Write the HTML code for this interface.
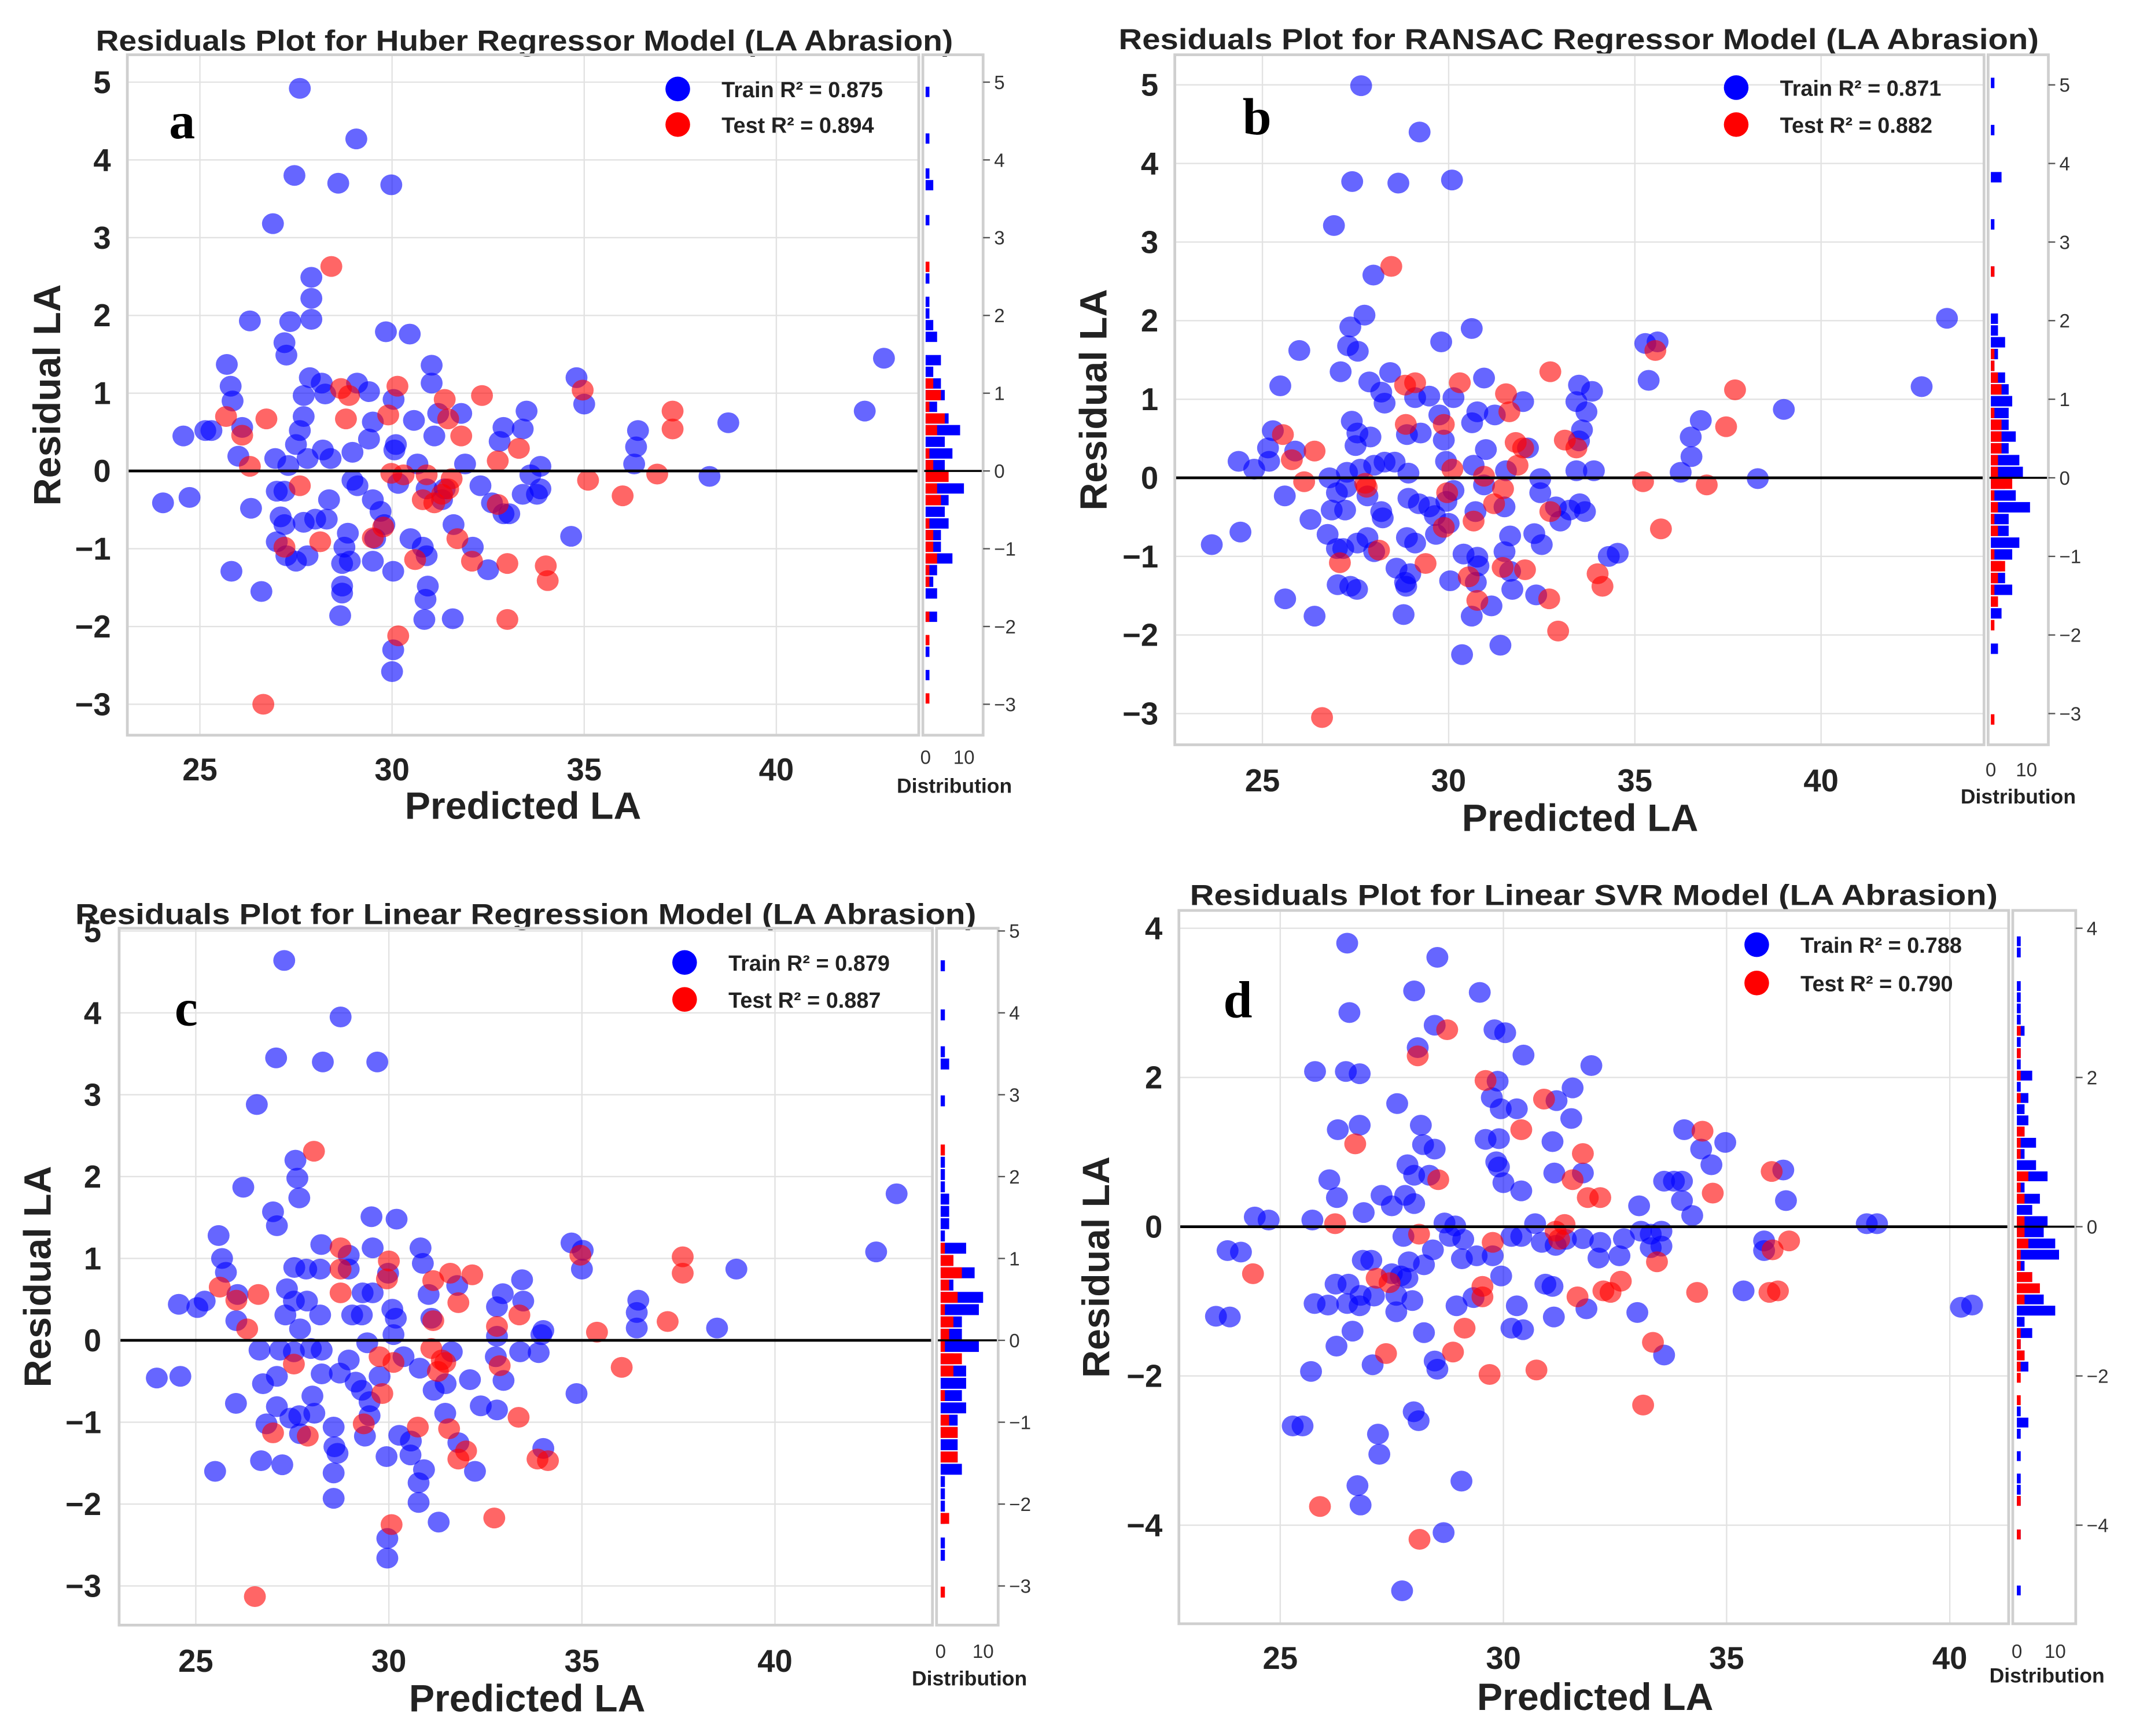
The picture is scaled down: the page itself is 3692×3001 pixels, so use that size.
<!DOCTYPE html>
<html><head><meta charset="utf-8"><style>
html,body{margin:0;padding:0;background:#fff;}
svg{display:block;}
text{font-family:"Liberation Sans",Arial,sans-serif;}
</style></head><body>
<svg id="fig" xmlns="http://www.w3.org/2000/svg" width="3692" height="3001" viewBox="0 0 1560 1268" preserveAspectRatio="none">
<rect x="0" y="0" width="1560" height="1268" fill="#fff"/>
</svg>
<script>
// ---------- DATA ----------
const xTicksAll = [25, 30, 35, 40];
const yTicksABC = [-3, -2, -1, 0, 1, 2, 3, 4, 5];
const yTicksD = [-4, -2, 0, 2, 4];
const histTickLabels = ["0", "10"];

const aTitle = "Residuals Plot for Huber Regressor Model (LA Abrasion)";
const aTrainR2 = "Train R² = 0.875";
const aTestR2 = "Test R² = 0.894";
const aTrain = [[27.6,4.92],[29.07,4.27],[27.46,3.8],[28.6,3.7],[29.98,3.68],[26.9,3.18],[27.9,2.49],[27.9,2.22],[26.3,1.93],[27.35,1.92],[27.9,1.95],[27.2,1.65],[27.25,1.49],[29.84,1.79],[30.46,1.76],[25.7,1.37],[25.8,1.09],[25.85,0.9],[31.03,1.36],[31.03,1.13],[27.86,1.2],[27.7,0.97],[28.17,1.13],[28.26,0.99],[29.09,1.13],[29.4,1.02],[30.04,0.92],[24.57,0.45],[25.14,0.52],[25.3,0.52],[26.1,0.56],[26.0,0.19],[27.7,0.7],[27.6,0.52],[27.5,0.34],[27.8,0.16],[28.2,0.27],[28.4,0.16],[28.97,0.24],[29.4,0.41],[29.5,0.63],[30.1,0.34],[30.06,0.27],[30.57,0.65],[31.1,0.45],[31.2,0.74],[31.8,0.74],[31.9,0.09],[32.8,0.38],[32.9,0.56],[33.4,0.54],[33.5,0.77],[33.86,0.06],[33.6,-0.05],[26.96,0.16],[27.3,0.07],[34.8,1.2],[35.0,0.86],[36.4,0.52],[36.35,0.31],[36.3,0.09],[38.75,0.62],[38.26,-0.07],[42.3,0.77],[42.8,1.45],[24.04,-0.41],[24.73,-0.34],[26.33,-0.48],[27.0,-0.26],[27.2,-0.26],[27.1,-0.59],[27.2,-0.69],[27.7,-0.66],[28.0,-0.62],[28.36,-0.37],[28.3,-0.62],[28.97,-0.12],[29.1,-0.19],[29.5,-0.37],[29.7,-0.52],[29.8,-0.69],[29.56,-0.87],[30.16,-0.16],[30.66,0.09],[30.9,-0.23],[31.3,-0.37],[31.37,-0.23],[31.6,-0.69],[32.3,-0.19],[32.6,-0.41],[32.9,-0.55],[33.05,-0.55],[33.4,-0.3],[33.86,-0.23],[33.77,-0.3],[34.66,-0.84],[27.0,-0.91],[27.25,-1.09],[27.5,-1.16],[27.8,-1.09],[28.85,-0.8],[28.76,-0.98],[28.7,-1.19],[28.9,-1.16],[29.5,-1.16],[30.03,-1.29],[30.48,-0.87],[30.8,-0.98],[30.9,-1.09],[32.1,-0.98],[32.5,-1.27],[25.82,-1.29],[26.6,-1.55],[28.7,-1.48],[28.7,-1.57],[30.93,-1.48],[30.87,-1.65],[28.65,-1.86],[30.84,-1.91],[31.58,-1.9],[30.03,-2.3],[30.0,-2.58]];
const aTest = [[28.42,2.63],[25.68,0.7],[26.73,0.67],[26.1,0.46],[26.3,0.06],[28.67,1.06],[28.88,0.97],[28.8,0.67],[29.9,0.72],[30.14,1.09],[31.37,0.92],[31.46,0.67],[31.8,0.45],[32.34,0.97],[32.75,0.13],[33.3,0.29],[34.96,1.04],[35.1,-0.12],[36.0,-0.32],[36.9,-0.04],[37.3,0.77],[37.3,0.54],[29.98,-0.03],[30.3,-0.05],[30.9,-0.05],[31.55,-0.1],[31.46,-0.23],[31.3,-0.3],[30.8,-0.37],[31.1,-0.41],[32.75,-0.43],[27.6,-0.19],[29.5,-0.86],[29.77,-0.72],[28.13,-0.91],[27.2,-0.98],[30.6,-1.14],[31.7,-0.87],[32.08,-1.16],[33.0,-1.19],[34.0,-1.22],[34.05,-1.41],[33.0,-1.91],[30.16,-2.12],[26.65,-3.0]];

const bTitle = "Residuals Plot for RANSAC Regressor Model (LA Abrasion)";
const bTrainR2 = "Train R² = 0.871";
const bTestR2 = "Test R² = 0.882";
const bTrain = [[27.65,4.99],[29.22,4.4],[27.41,3.77],[28.65,3.75],[30.09,3.79],[26.92,3.21],[27.98,2.58],[27.74,2.07],[27.36,1.92],[25.99,1.62],[27.3,1.68],[27.56,1.61],[29.8,1.73],[30.62,1.9],[35.28,1.71],[35.61,1.73],[43.38,2.03],[42.7,1.16],[39.0,0.87],[25.48,1.17],[27.1,1.35],[27.87,1.22],[28.43,1.34],[28.19,1.09],[28.28,0.95],[29.1,1.02],[29.48,1.04],[30.13,1.02],[30.95,1.27],[30.77,0.84],[31.24,0.8],[32.0,0.97],[33.5,1.18],[33.85,1.1],[33.43,0.97],[33.7,0.84],[35.37,1.24],[27.4,0.72],[27.55,0.57],[27.5,0.41],[27.9,0.52],[28.88,0.55],[29.25,0.57],[29.75,0.8],[29.87,0.48],[30.63,0.7],[31.0,0.36],[32.13,0.38],[33.58,0.61],[33.5,0.47],[36.77,0.73],[36.5,0.52],[36.52,0.27],[25.28,0.6],[25.15,0.38],[25.88,0.34],[24.36,0.21],[24.78,0.11],[25.18,0.21],[26.8,0],[27.27,0.07],[27.63,0.11],[28.0,0.16],[28.28,0.2],[28.55,0.2],[28.92,0.06],[29.93,0.21],[30.67,0.16],[31.54,0.09],[32.46,-0.01],[33.43,0.09],[33.9,0.09],[36.23,0.07],[38.3,-0.01],[25.6,-0.23],[27.0,-0.19],[27.25,-0.12],[27.82,-0.23],[28.92,-0.26],[29.2,-0.33],[29.48,-0.37],[29.63,-0.48],[29.94,-0.3],[30.13,-0.16],[30.95,-0.09],[31.5,-0.37],[32.46,-0.19],[32.88,-0.37],[33.0,-0.55],[33.52,-0.33],[33.66,-0.43],[33.25,-0.41],[26.86,-0.41],[27.22,-0.41],[26.29,-0.53],[28.23,-0.51],[28.19,-0.43],[29.66,-0.72],[30.0,-0.58],[30.72,-0.43],[24.41,-0.69],[23.64,-0.85],[26.75,-0.72],[27.0,-0.9],[27.17,-0.9],[27.55,-0.83],[27.82,-0.76],[28.0,-0.94],[28.88,-0.76],[29.1,-0.83],[30.4,-0.97],[30.77,-1.01],[31.5,-0.94],[31.65,-0.74],[32.3,-0.71],[32.5,-0.85],[34.3,-1.0],[34.54,-0.96],[28.6,-1.15],[28.97,-1.22],[30.8,-1.12],[31.65,-1.19],[27.02,-1.36],[27.36,-1.38],[27.54,-1.42],[28.83,-1.33],[28.86,-1.38],[30.04,-1.31],[30.73,-1.33],[31.71,-1.42],[32.35,-1.49],[25.61,-1.54],[26.4,-1.76],[28.79,-1.74],[30.62,-1.76],[31.15,-1.63],[31.39,-2.13],[30.36,-2.25]];
const bTest = [[28.46,2.69],[35.55,1.62],[32.73,1.35],[37.69,1.12],[37.45,0.65],[30.3,1.21],[28.83,1.18],[29.1,1.21],[31.54,1.07],[31.63,0.84],[28.85,0.68],[29.87,0.68],[25.55,0.55],[26.4,0.34],[25.79,0.23],[31.8,0.45],[33.12,0.48],[33.43,0.38],[32.0,0.38],[31.85,0.16],[30.1,0.11],[30.95,0.02],[26.12,-0.05],[27.76,-0.07],[27.8,-0.12],[29.96,-0.19],[31.46,-0.14],[31.22,-0.33],[35.22,-0.05],[36.93,-0.09],[32.73,-0.43],[30.67,-0.55],[29.87,-0.63],[35.7,-0.65],[28.13,-0.92],[27.08,-1.08],[29.38,-1.09],[30.54,-1.26],[31.45,-1.14],[32.05,-1.17],[34.0,-1.22],[34.13,-1.38],[30.77,-1.56],[32.7,-1.54],[32.94,-1.95],[26.6,-3.05]];

const cTitle = "Residuals Plot for Linear Regression Model (LA Abrasion)";
const cTrainR2 = "Train R² = 0.879";
const cTestR2 = "Test R² = 0.887";
const cTrain = [[27.29,4.64],[28.75,3.95],[27.08,3.45],[28.29,3.4],[29.7,3.4],[26.58,2.88],[27.58,2.2],[27.63,1.98],[27.68,1.74],[26.23,1.87],[27.0,1.57],[27.1,1.4],[29.55,1.51],[30.2,1.48],[25.59,1.28],[25.68,1.0],[25.78,0.83],[28.25,1.17],[28.96,1.04],[29.58,1.13],[30.82,1.13],[30.88,0.94],[27.55,0.89],[27.86,0.87],[28.22,0.87],[28.96,0.87],[29.98,0.82],[34.73,1.19],[35.02,1.1],[35.0,0.87],[39.0,0.87],[42.62,1.08],[43.15,1.79],[33.45,0.74],[32.95,0.57],[32.8,0.41],[33.48,0.48],[36.46,0.49],[36.42,0.34],[36.42,0.15],[38.5,0.15],[24.56,0.44],[25.04,0.4],[25.23,0.48],[26.08,0.56],[26.05,0.24],[27.36,0.63],[27.54,0.48],[27.32,0.31],[27.7,0.14],[27.88,0.48],[28.22,0.31],[29.32,0.58],[29.58,0.58],[29.05,0.31],[29.3,0.31],[30.09,0.38],[30.18,0.27],[30.12,0.07],[31.03,0.56],[31.1,0.27],[31.77,0.67],[34.0,0.12],[33.95,0.07],[32.8,0.05],[26.65,-0.12],[27.18,-0.12],[27.54,-0.14],[27.98,-0.1],[28.26,-0.12],[29.44,-0.03],[30.38,-0.2],[31.63,-0.14],[32.77,-0.2],[33.4,-0.14],[33.88,-0.15],[23.99,-0.46],[24.6,-0.44],[26.74,-0.53],[27.1,-0.44],[28.26,-0.41],[28.73,-0.4],[28.96,-0.24],[29.14,-0.51],[29.76,-0.44],[29.3,-0.61],[29.5,-0.75],[30.8,-0.34],[31.16,-0.61],[31.47,-0.53],[32.1,-0.48],[32.97,-0.49],[34.86,-0.65],[26.04,-0.77],[28.02,-0.68],[27.1,-0.81],[26.83,-1.02],[27.45,-0.95],[27.68,-0.92],[28.07,-0.89],[29.5,-0.92],[28.57,-1.06],[29.38,-1.17],[30.27,-1.16],[30.57,-1.23],[31.46,-0.89],[32.38,-0.8],[32.8,-0.85],[27.7,-1.14],[28.59,-1.3],[28.67,-1.38],[34.0,-1.32],[31.8,-1.25],[26.69,-1.47],[27.24,-1.52],[25.5,-1.6],[28.57,-1.62],[29.94,-1.42],[30.56,-1.4],[30.91,-1.58],[30.77,-1.74],[32.23,-1.6],[28.57,-1.93],[30.77,-1.98],[31.29,-2.22],[29.96,-2.42],[29.96,-2.66]];
const cTest = [[28.06,2.31],[25.62,0.65],[26.62,0.56],[26.05,0.49],[26.33,0.14],[28.75,1.13],[28.75,0.87],[28.75,0.58],[30.0,0.97],[29.95,0.75],[31.15,0.73],[31.59,0.82],[32.16,0.8],[31.8,0.46],[31.15,0.24],[32.8,0.17],[33.38,0.31],[34.96,1.04],[35.39,0.1],[36.03,-0.33],[37.22,0.23],[37.61,1.02],[37.61,0.82],[29.76,-0.2],[30.12,-0.27],[31.1,-0.1],[31.37,-0.24],[31.27,-0.38],[31.46,-0.27],[32.87,-0.31],[27.54,-0.29],[29.83,-0.65],[29.35,-1.02],[27.0,-1.13],[27.9,-1.17],[30.75,-1.06],[31.56,-1.08],[32.0,-1.35],[31.8,-1.45],[33.36,-0.94],[33.85,-1.45],[34.12,-1.47],[32.73,-2.17],[30.07,-2.25],[26.53,-3.13]];

const dTitle = "Residuals Plot for Linear SVR Model (LA Abrasion)";
const dTrainR2 = "Train R² = 0.788";
const dTestR2 = "Test R² = 0.790";
const dTrain = [[26.5,3.8],[28.52,3.61],[28.0,3.16],[29.47,3.14],[26.55,2.87],[28.46,2.7],[29.8,2.64],[30.04,2.6],[30.45,2.3],[28.08,2.4],[25.78,2.08],[26.47,2.08],[26.78,2.05],[31.97,2.16],[29.87,1.95],[29.74,1.73],[29.94,1.58],[30.3,1.58],[31.55,1.86],[31.19,1.69],[31.52,1.45],[27.62,1.65],[26.29,1.3],[26.78,1.36],[28.15,1.36],[28.2,1.1],[28.46,1.04],[29.6,1.17],[29.9,1.18],[31.1,1.14],[34.05,1.3],[34.43,1.04],[34.97,1.13],[27.85,0.83],[28.0,0.69],[28.34,0.69],[29.84,0.87],[29.9,0.8],[30.0,0.59],[30.4,0.48],[31.14,0.72],[31.78,0.72],[34.66,0.83],[33.6,0.61],[33.82,0.61],[34.0,0.61],[34.0,0.35],[34.23,0.15],[36.27,0.76],[36.33,0.35],[26.1,0.63],[26.27,0.39],[27.27,0.42],[27.5,0.28],[27.8,0.42],[28.0,0.31],[26.87,0.19],[25.72,0.09],[24.43,0.13],[24.74,0.09],[33.04,0.28],[28.68,0.05],[28.92,0.01],[30.71,0.04],[38.14,0.04],[38.37,0.04],[23.82,-0.32],[24.12,-0.34],[27.76,-0.13],[28.42,-0.31],[28.8,-0.13],[29.1,-0.17],[30.18,-0.13],[30.4,-0.13],[30.86,-0.21],[31.17,-0.25],[31.4,-0.17],[31.78,-0.16],[32.17,-0.21],[32.13,-0.42],[32.7,-0.16],[33.08,-0.06],[33.3,-0.1],[33.54,-0.06],[33.3,-0.28],[33.54,-0.26],[32.6,-0.39],[35.84,-0.19],[35.84,-0.32],[29.07,-0.43],[29.4,-0.39],[28.22,-0.51],[27.88,-0.47],[26.85,-0.45],[27.04,-0.45],[29.95,-0.66],[29.76,-0.39],[26.24,-0.77],[26.53,-0.77],[27.5,-0.63],[27.7,-0.66],[27.85,-0.69],[26.8,-0.92],[27.1,-0.93],[27.6,-0.92],[27.96,-0.99],[25.77,-1.03],[26.07,-1.05],[26.5,-1.03],[26.78,-1.06],[27.6,-1.14],[28.95,-1.06],[29.33,-0.95],[30.3,-1.06],[30.94,-0.77],[31.1,-0.8],[31.13,-1.21],[31.86,-1.1],[33.0,-1.15],[35.38,-0.86],[23.56,-1.2],[23.87,-1.21],[40.25,-1.08],[40.5,-1.05],[26.62,-1.4],[26.26,-1.6],[28.22,-1.42],[30.18,-1.36],[30.44,-1.38],[25.69,-1.94],[27.07,-1.85],[28.46,-1.8],[28.52,-1.91],[33.6,-1.72],[25.28,-2.67],[25.5,-2.67],[27.99,-2.48],[28.1,-2.6],[27.19,-2.78],[27.22,-3.05],[29.06,-3.41],[26.73,-3.47],[26.8,-3.73],[28.66,-4.1],[27.73,-4.88]];
const dTest = [[28.74,2.64],[28.08,2.29],[29.6,1.96],[30.91,1.71],[30.4,1.3],[34.46,1.28],[26.68,1.11],[31.78,0.98],[28.54,0.63],[31.55,0.63],[31.89,0.39],[32.17,0.39],[34.69,0.45],[36.01,0.74],[26.23,0.04],[28.11,-0.1],[29.76,-0.21],[31.17,-0.06],[31.37,0.03],[31.25,-0.17],[36.03,-0.31],[36.4,-0.19],[33.44,-0.47],[24.39,-0.63],[27.16,-0.69],[27.45,-0.75],[29.53,-0.8],[29.53,-0.94],[31.66,-0.94],[32.24,-0.86],[32.4,-0.88],[32.63,-0.73],[34.34,-0.88],[35.96,-0.88],[36.15,-0.86],[29.13,-1.36],[33.35,-1.55],[27.37,-1.7],[28.87,-1.68],[29.69,-1.98],[30.74,-1.92],[33.13,-2.39],[25.89,-3.75],[28.12,-4.19]];

// ---------- LAYOUT (display units) ----------
const NS = "http://www.w3.org/2000/svg";
const svg = document.getElementById('fig');
function mk(tag, attrs, parent, txt){
  const e = document.createElementNS(NS, tag);
  for (const k in attrs) e.setAttribute(k, attrs[k]);
  if (txt !== undefined) e.textContent = txt;
  (parent || svg).appendChild(e);
  return e;
}

const panels = [
 {id:'a', title:aTitle, tr:aTrainR2, te:aTestR2, train:aTrain, test:aTest, yt:yTicksABC,
  L:93,R:671,T:40,B:537, x0:25,px0:146,x1:40,px1:567, y0:0,py0:344,y1:5,py1:60,
  hL:674,hR:718,h0:676,h10:704, titleX:383,titleY:37,titleW:626, letX:133,letY:101,
  legX:495,legY1:65,legY2:91, ytlX:81, xtlY:570, xtY:598, xtX:382, ytX:44, distX:697, distY:579, hlY:558},
 {id:'b', title:bTitle, tr:bTrainR2, te:bTestR2, train:bTrain, test:bTest, yt:yTicksABC,
  L:858,R:1449,T:40,B:544, x0:25,px0:922,x1:40,px1:1330, y0:0,py0:349,y1:5,py1:62,
  hL:1452,hR:1496,h0:1454,h10:1480, titleX:1153,titleY:36,titleW:672, letX:918,letY:98,
  legX:1268,legY1:64,legY2:91, ytlX:846, xtlY:578, xtY:607, xtX:1154, ytX:808, distX:1474, distY:587, hlY:567},
 {id:'c', title:cTitle, tr:cTrainR2, te:cTestR2, train:cTrain, test:cTest, yt:yTicksABC,
  L:87,R:681,T:678,B:1187, x0:25,px0:143,x1:40,px1:566, y0:0,py0:979,y1:5,py1:680,
  hL:684,hR:729,h0:687,h10:718, titleX:384,titleY:675,titleW:658, letX:136,letY:749,
  legX:500,legY1:703,legY2:730, ytlX:74, xtlY:1221, xtY:1250, xtX:385, ytX:37, distX:708, distY:1231, hlY:1211},
 {id:'d', title:dTitle, tr:dTrainR2, te:dTestR2, train:dTrain, test:dTest, yt:yTicksD,
  L:861,R:1467,T:665,B:1186, x0:25,px0:935,x1:40,px1:1424, y0:0,py0:896,y1:4,py1:678,
  hL:1470,hR:1516,h0:1473,h10:1501, titleX:1164,titleY:661,titleW:590, letX:904,letY:743,
  legX:1283,legY1:690,legY2:718, ytlX:849, xtlY:1219, xtY:1249, xtX:1165, ytX:810, distX:1495, distY:1229, hlY:1211}
];

function drawPanel(p){
  const g = mk('g', {});
  
  
  const sx = v => p.px0 + (v - p.x0) * (p.px1 - p.px0) / (p.x1 - p.x0);
  const sy = v => p.py0 + (v - p.y0) * (p.py1 - p.py0) / (p.y1 - p.y0);
  const ppu = (p.py0 - p.py1) / (p.y1 - p.y0);

  const t = mk('text', {x:p.titleX, y:p.titleY, 'text-anchor':'middle', 'font-size':21, 'font-weight':'bold', fill:'#222', textLength:p.titleW, lengthAdjust:'spacingAndGlyphs'}, g, p.title);
  
  

  const grid = mk('g', {}, g);
  
  
  xTicksAll.forEach(v => { const X = sx(v); if (X > p.L && X < p.R) mk('line', {x1:X, x2:X, y1:p.T, y2:p.B, stroke:'#e2e2e2', 'stroke-width':1}, grid); });
  p.yt.forEach(v => { const Y = sy(v); mk('line', {x1:p.L, x2:p.R, y1:Y, y2:Y, stroke:'#e2e2e2', 'stroke-width':1}, grid); });

  xTicksAll.forEach(v => {
    const e = mk('text', {x:sx(v), y:p.xtlY, 'text-anchor':'middle', 'font-size':23, 'font-weight':'bold', fill:'#222'}, g, String(v));
    
    
  });
  p.yt.forEach(v => {
    const e = mk('text', {x:p.ytlX, y:sy(v) + 8, 'text-anchor':'end', 'font-size':23, 'font-weight':'bold', fill:'#222'}, g, (v < 0 ? '\u2212' + (-v) : String(v)));
    
    
  });

  const xt = mk('text', {x:p.xtX, y:p.xtY, 'text-anchor':'middle', 'font-size':28, 'font-weight':'bold', fill:'#222'}, g, 'Predicted LA');
  
  
  const cy = (p.T + p.B) / 2;
  const yt = mk('text', {x:p.ytX, y:cy, 'text-anchor':'middle', 'font-size':28, 'font-weight':'bold', fill:'#222', transform:'rotate(-90 ' + p.ytX + ' ' + cy + ')'}, g, 'Residual LA');
  
  

  const pts = mk('g', {}, g);
  
  
  p.train.forEach(d => {
    const c = mk('ellipse', {cx:sx(d[0]), cy:sy(d[1]), rx:8, ry:7.6, fill:'rgba(0,0,255,0.6)'}, pts);
    
    
  });
  p.test.forEach(d => {
    const c = mk('ellipse', {cx:sx(d[0]), cy:sy(d[1]), rx:8, ry:7.6, fill:'rgba(255,0,0,0.6)'}, pts);
    
    
  });

  const zl = mk('line', {x1:p.L, x2:p.R, y1:sy(0), y2:sy(0), stroke:'#000', 'stroke-width':2}, g);
  
  

  const fr = mk('rect', {x:p.L, y:p.T, width:p.R - p.L, height:p.B - p.T, fill:'none', stroke:'#cfcfcf', 'stroke-width':2}, g);
  
  

  const lt = mk('text', {x:p.letX, y:p.letY, 'text-anchor':'middle', style:'font-family:"Liberation Serif",serif;font-size:38px;font-weight:bold', fill:'#000'}, g, p.id);
  
  

  const lg = mk('g', {}, g);
  
  
  mk('circle', {cx:p.legX, cy:p.legY1, r:9, fill:'#0000ff'}, lg);
  mk('circle', {cx:p.legX, cy:p.legY2, r:9, fill:'#ff0000'}, lg);
  const l1 = mk('text', {x:p.legX + 32, y:p.legY1 + 6, 'font-size':16, 'font-weight':'bold', fill:'#222'}, lg, p.tr);
  
  
  const l2 = mk('text', {x:p.legX + 32, y:p.legY2 + 6, 'font-size':16, 'font-weight':'bold', fill:'#222'}, lg, p.te);
  
  

  const hg = mk('g', {}, g);
  
  
  const pxPerCount = (p.h10 - p.h0) / 10;
  const binW = 0.15;
  function hist(arr){
    const m = {};
    arr.forEach(d => { const k = Math.floor(d[1] / binW); m[k] = (m[k] || 0) + 1; });
    return m;
  }
  const hTr = hist(p.train), hTe = hist(p.test);
  const bh = binW * ppu;
  Object.keys(hTr).forEach(k => {
    const y = sy((+k + 1) * binW);
    const b = mk('rect', {x:p.h0, y:y + 0.5, width:hTr[k] * pxPerCount, height:bh - 1, fill:'#0000ff'}, hg);
    
    
  });
  Object.keys(hTe).forEach(k => {
    const y = sy((+k + 1) * binW);
    const b = mk('rect', {x:p.h0, y:y + 0.5, width:hTe[k] * pxPerCount, height:bh - 1, fill:'#ff0000'}, hg);
    
    
  });
  mk('line', {x1:p.hL, x2:p.hR, y1:sy(0), y2:sy(0), stroke:'#000', 'stroke-width':1.5}, hg);
  mk('rect', {x:p.hL, y:p.T, width:p.hR - p.hL, height:p.B - p.T, fill:'none', stroke:'#cfcfcf', 'stroke-width':2}, hg);
  p.yt.forEach(v => {
    const Y = sy(v);
    mk('line', {x1:p.hR, x2:p.hR + 5, y1:Y, y2:Y, stroke:'#555', 'stroke-width':1}, hg);
    const e = mk('text', {x:p.hR + 8, y:Y + 5, 'font-size':14, fill:'#333'}, hg, (v < 0 ? '\u2212' + (-v) : String(v)));
    
    
  });
  [0, 10].forEach((c, i) => {
    const e = mk('text', {x:p.h0 + c * pxPerCount, y:p.hlY, 'text-anchor':'middle', 'font-size':14, fill:'#333'}, hg, histTickLabels[i]);
    
    
  });
  const dt = mk('text', {x:p.distX, y:p.distY, 'text-anchor':'middle', 'font-size':15, 'font-weight':'bold', fill:'#222'}, hg, 'Distribution');
  
  
}
panels.forEach(drawPanel);
</script>
</body></html>
